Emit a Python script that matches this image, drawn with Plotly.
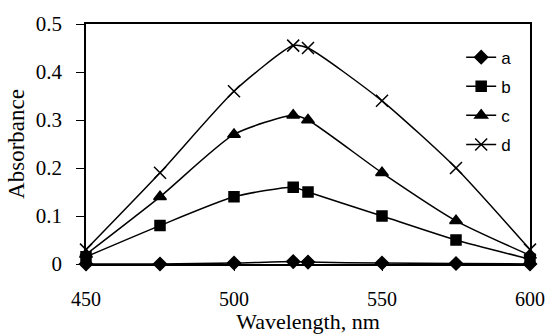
import plotly.graph_objects as go

wavelength = [450, 475, 500, 520, 525, 550, 575, 600]
series_a = [0.0, 0.0, 0.002, 0.005, 0.004, 0.002, 0.001, 0.0]
series_b = [0.015, 0.08, 0.14, 0.16, 0.15, 0.10, 0.05, 0.01]
series_c = [0.02, 0.14, 0.27, 0.31, 0.30, 0.19, 0.09, 0.018]
series_d = [0.03, 0.19, 0.36, 0.455, 0.45, 0.34, 0.20, 0.03]
names = ["a", "b", "c", "d"]
x_ticks = [450, 500, 550, 600]
y_ticks = [0, 0.1, 0.2, 0.3, 0.4, 0.5]

symbols = ["diamond", "square", "triangle-up", "x-thin-open"]
sizes = [10, 10, 11, 12]
fig = go.Figure()
for name, ys, sym, sz in zip(names, [series_a, series_b, series_c, series_d], symbols, sizes):
    fig.add_trace(go.Scatter(
        x=wavelength, y=ys, name=name, mode="lines+markers", legendgroup=name,
        line=dict(color="black", width=1.5, shape="spline", smoothing=0.6),
        marker=dict(symbol=sym, size=sz, color="black",
                    line=dict(color="black", width=1.5)),
        cliponaxis=False,
    ))

fig.update_layout(
    width=551, height=334,
    margin=dict(l=86, r=21, t=24, b=70),
    paper_bgcolor="white", plot_bgcolor="white",
    font=dict(family="Liberation Serif", size=21, color="black"),
    showlegend=True,
    legend=dict(x=0.845, y=0.935, xanchor="left", yanchor="top",
                font=dict(family="Liberation Sans", size=17, color="black"),
                bgcolor="rgba(0,0,0,0)", itemwidth=30, tracegroupgap=4,
                traceorder="grouped"),
    xaxis=dict(range=[450, 600], tickvals=x_ticks, ticks="outside", ticklen=5,
               tickcolor="black", showline=True, linecolor="black", linewidth=1.5,
               mirror=True, showgrid=False, zeroline=False, automargin=False,
               ticklabelstandoff=11, tickfont=dict(size=20),
               title=dict(text="Wavelength, nm", font=dict(size=22), standoff=5)),
    yaxis=dict(range=[0, 0.5], tickvals=y_ticks, ticks="outside", ticklen=8,
               tickcolor="black", showline=True, linecolor="black", linewidth=1.5,
               mirror=True, showgrid=False, zeroline=False, automargin=False,
               ticklabelstandoff=10,
               title=dict(text="Absorbance", font=dict(size=23), standoff=5)),
)
fig.write_html("out.html", config={"displayModeBar": False},
               post_script="document.body.style.margin='0';document.body.style.overflow='hidden';")
